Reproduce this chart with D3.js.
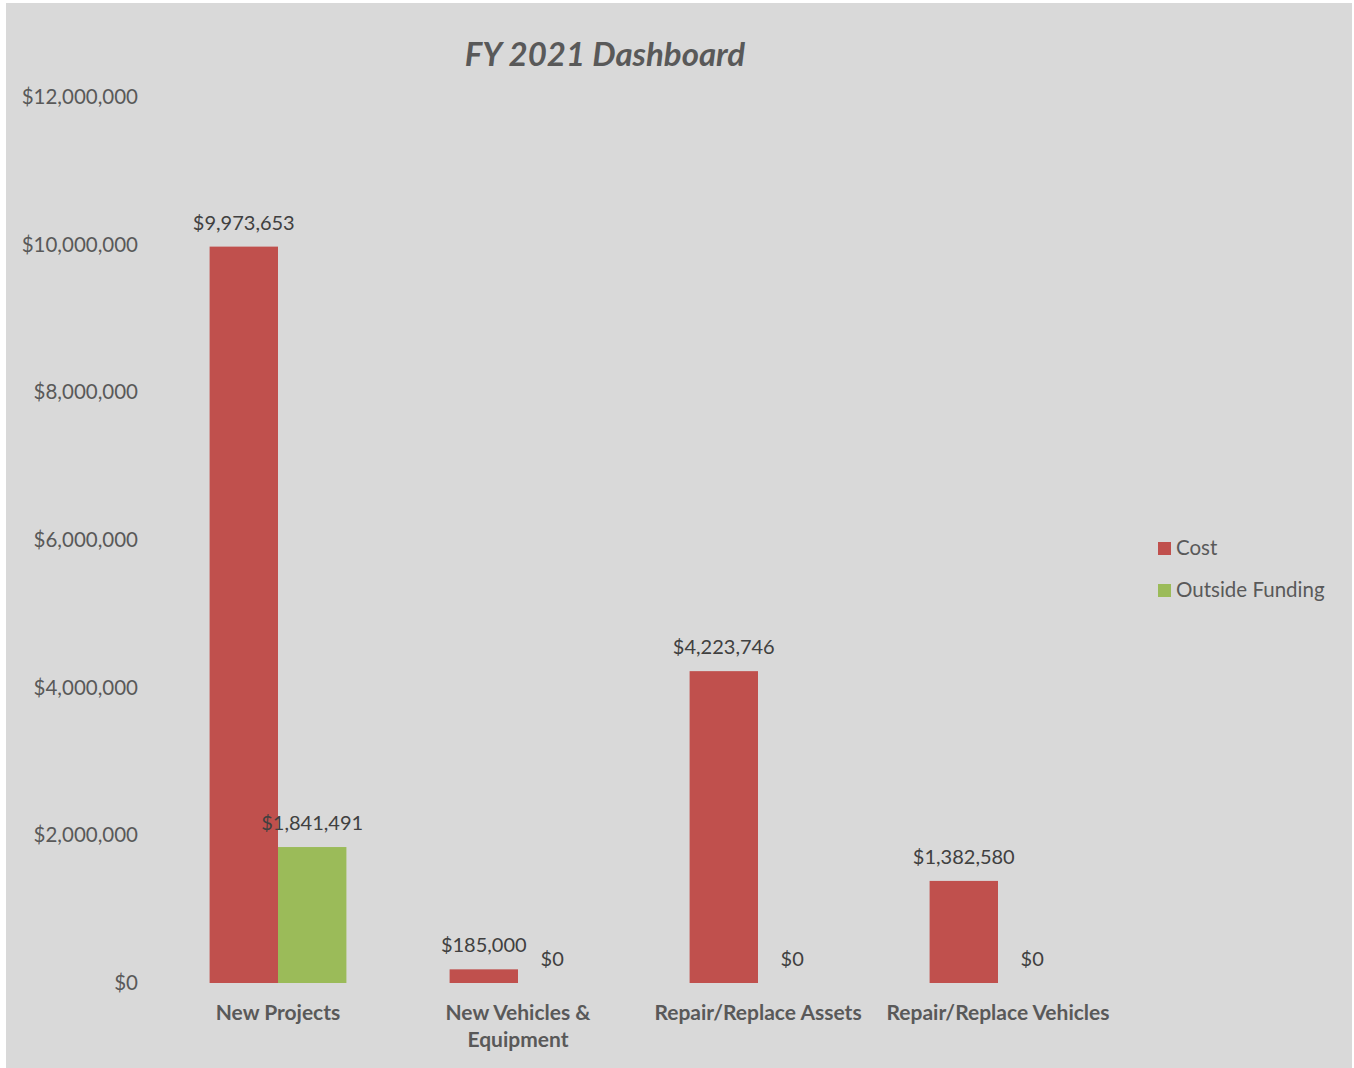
<!DOCTYPE html>
<html>
<head>
    <title>FY 2021 Dashboard</title>
    <meta charset="utf-8">
    <style>
        body { margin: 0; background: #fff; }
        text { font-family: Lato, "Open Sans", sans-serif; }
    </style>
</head>
<body>
<script src="https://d3js.org/d3.v7.min.js"></script>
<script>
    // chart values
    var categories = ['New Projects', 'New Vehicles & Equipment', 'Repair/Replace Assets', 'Repair/Replace Vehicles'];
    var categoryLines = [['New Projects'], ['New Vehicles &', 'Equipment'], ['Repair/Replace Assets'], ['Repair/Replace Vehicles']];
    var seriesNames = ['Cost', 'Outside Funding'];
    var costValues = [9973653, 185000, 4223746, 1382580];
    var fundingValues = [1841491, 0, 0, 0];
    var yTicks = [0, 2000000, 4000000, 6000000, 8000000, 10000000, 12000000];
    var colors = ['#c0504d', '#9bbb59'];

    var width = 1354, height = 1068;
    var svg = d3.select('body').append('svg')
        .attr('width', width)
        .attr('height', height);

    // chart area background (thin white margin on top/left)
    svg.append('rect')
        .attr('x', 6).attr('y', 3)
        .attr('width', width - 8).attr('height', height - 3)
        .style('fill', '#d9d9d9');

    var plot = { left: 158, right: 1118, top: 97, bottom: 983 };

    var x = d3.scaleBand()
        .domain(categories)
        .range([plot.left, plot.right])
        .paddingInner(0.43)
        .paddingOuter(0.215);

    var xs = d3.scaleBand()
        .domain(seriesNames)
        .range([0, x.bandwidth()]);

    var y = d3.scaleLinear()
        .domain([0, 12000000])
        .range([plot.bottom, plot.top]);

    var money = function (v) { return '$' + d3.format(',')(v); };

    // y axis labels (no line, no ticks)
    var yAxis = d3.axisLeft(y).tickValues(yTicks).tickFormat(money).tickSize(0).tickPadding(0);
    var gy = svg.append('g').attr('transform', 'translate(138,0)').call(yAxis);
    gy.select('.domain').remove();
    gy.selectAll('text')
        .style('font-family', 'Lato, "Open Sans", sans-serif')
        .style('font-size', '20.5px')
        .style('fill', '#595959');

    // bars
    var rows = categories.map(function (c, i) {
        return [
            { cat: c, series: seriesNames[0], value: costValues[i], color: colors[0] },
            { cat: c, series: seriesNames[1], value: fundingValues[i], color: colors[1] }
        ];
    });
    var flat = d3.merge(rows);

    svg.append('g').selectAll('rect')
        .data(flat)
        .enter().append('rect')
        .attr('x', function (d) { return x(d.cat) + xs(d.series); })
        .attr('y', function (d) { return y(d.value); })
        .attr('width', xs.bandwidth())
        .attr('height', function (d) { return y(0) - y(d.value); })
        .style('fill', function (d) { return d.color; });

    // value labels
    svg.append('g').selectAll('text')
        .data(flat)
        .enter().append('text')
        .attr('x', function (d) { return x(d.cat) + xs(d.series) + xs.bandwidth() / 2; })
        .attr('y', function (d) { return y(d.value) - 17; })
        .attr('text-anchor', 'middle')
        .style('font-size', '20px')
        .style('fill', '#404040')
        .text(function (d) { return money(d.value); });

    // x category labels
    var gx = svg.append('g');
    categories.forEach(function (c, i) {
        var t = gx.append('text')
            .attr('x', x(c) + x.bandwidth() / 2)
            .attr('y', 1020)
            .attr('text-anchor', 'middle')
            .style('font-size', '21px')
            .style('font-weight', 'bold')
            .style('fill', '#595959');
        categoryLines[i].forEach(function (line, j) {
            t.append('tspan')
                .attr('x', x(c) + x.bandwidth() / 2)
                .attr('dy', j === 0 ? 0 : 27)
                .text(line);
        });
    });

    // title
    svg.append('text')
        .attr('x', 605)
        .attr('y', 66)
        .attr('text-anchor', 'middle')
        .style('font-size', '33px')
        .style('font-weight', 'bold')
        .style('font-style', 'italic')
        .style('fill', '#595959')
        .text('FY 2021 Dashboard');

    // legend
    var legend = svg.append('g').selectAll('g')
        .data(seriesNames)
        .enter().append('g')
        .attr('transform', function (d, i) { return 'translate(1158,' + (542 + i * 42) + ')'; });
    legend.append('rect')
        .attr('width', 13).attr('height', 13)
        .style('fill', function (d, i) { return colors[i]; });
    legend.append('text')
        .attr('x', 18).attr('y', 13)
        .style('font-size', '20.5px')
        .style('fill', '#595959')
        .text(function (d) { return d; });
</script>
</body>
</html>
